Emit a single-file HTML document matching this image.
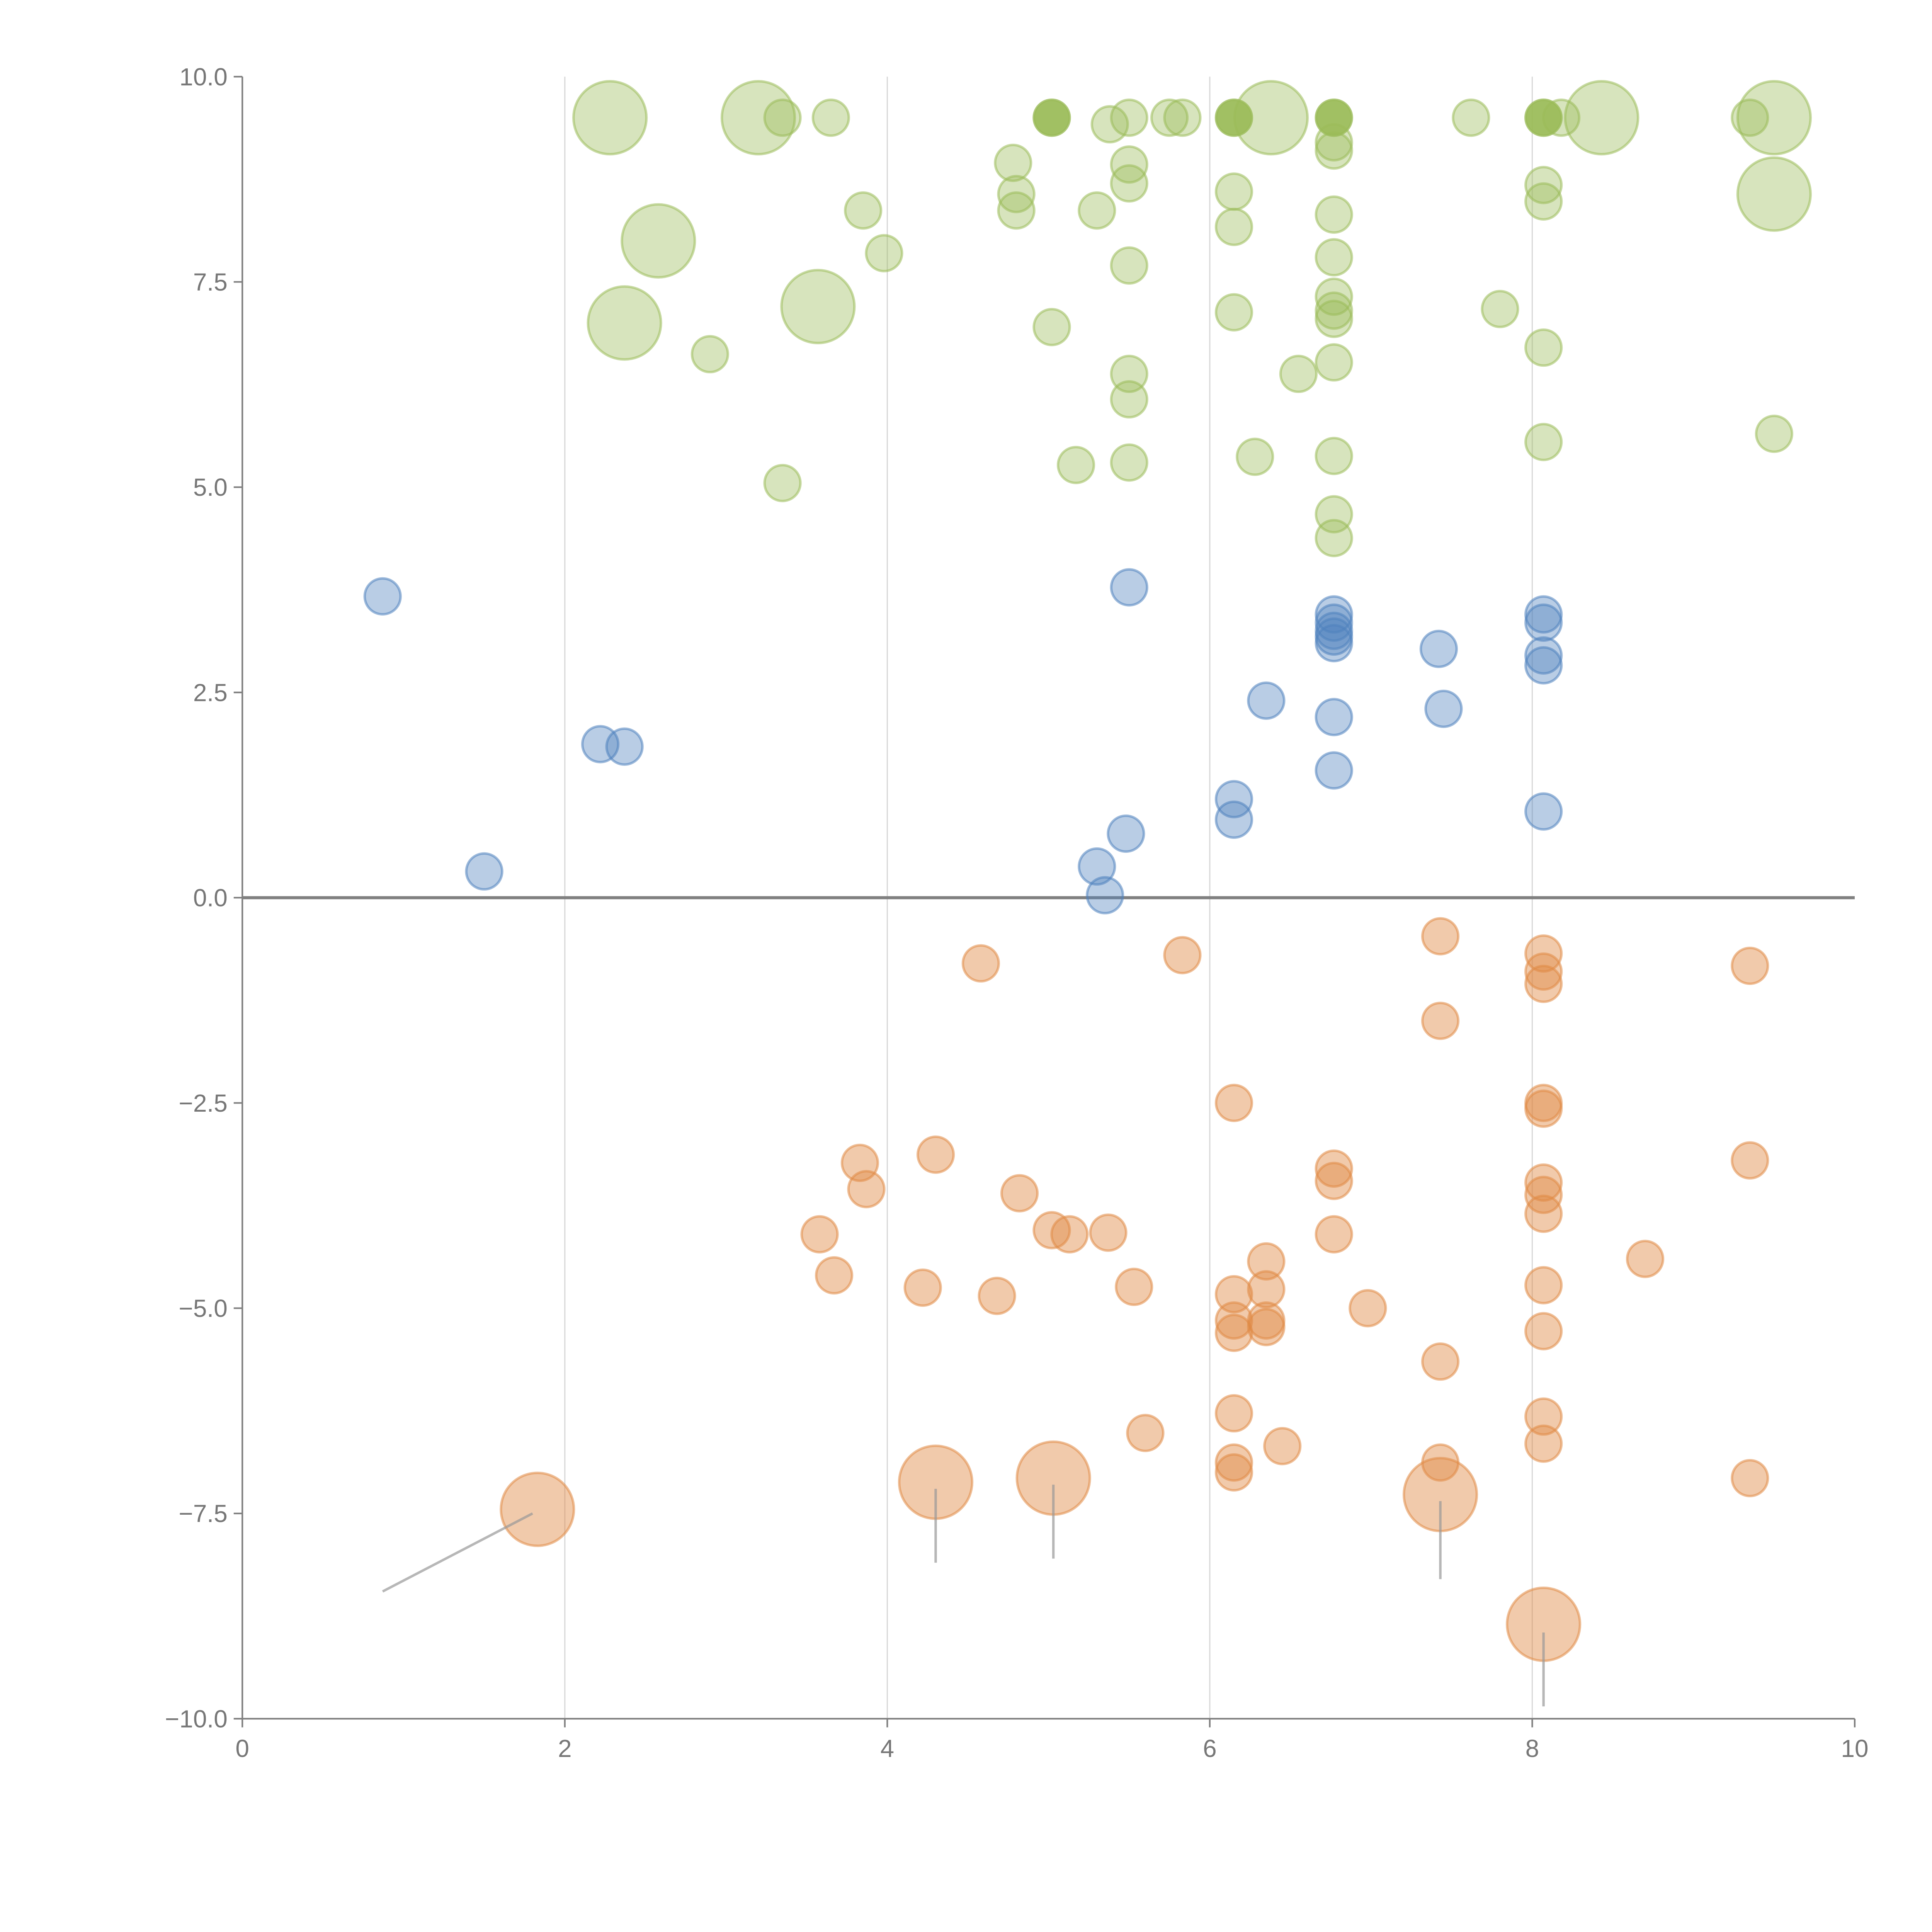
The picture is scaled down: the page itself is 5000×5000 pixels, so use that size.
<!DOCTYPE html>
<html><head><meta charset="utf-8"><style>html,body{margin:0;padding:0;background:#fff}svg{display:block}text{font-family:"Liberation Sans",sans-serif}</style></head>
<body>
<svg id="chart" width="5000" height="5000" viewBox="0 0 1562.5 1562.5" xmlns="http://www.w3.org/2000/svg">
<g id="grid"></g>
<g id="axes"></g>
<g id="marks"></g>
</svg>
<script>
const xTicks=[0,2,4,6,8,10];
const yTicks=[10,7.5,5,2.5,0,-2.5,-5,-7.5,-10];
const yTickLabels=["10.0","7.5","5.0","2.5","0.0","\u22122.5","\u22125.0","\u22127.5","\u221210.0"];
const greenSmallX=[3.35,3.65,5.02,5.5,5.38,5.75,5.83,6.15,6.77,7.62,8.07,8.18,9.35,6.77,6.77,4.78,5.5,4.8,5.5,6.15,8.07,8.07,3.85,4.8,5.3,6.77,6.15,3.98,6.77,5.5,6.77,6.77,6.77,7.8,6.15,5.02,2.9,8.07,6.77,5.5,6.55,5.5,8.07,9.5,6.28,6.77,5.17,5.5,3.35,6.77,6.77];
const greenSmallY=[9.5,9.5,9.5,9.5,9.42,9.5,9.5,9.5,9.5,9.5,9.5,9.5,9.5,9.2,9.1,8.95,8.93,8.57,8.7,8.6,8.68,8.48,8.37,8.37,8.37,8.32,8.17,7.85,7.8,7.7,7.32,7.15,7.05,7.17,7.13,6.95,6.62,6.7,6.52,6.38,6.38,6.07,5.55,5.65,5.37,5.38,5.27,5.3,5.05,4.67,4.38];
const greenDarkX=[5.02,6.15,6.77,8.07];
const greenDarkY=[9.5,9.5,9.5,9.5];
const greenLargeX=[2.28,3.2,6.38,8.43,9.5,2.58,3.57,2.37,9.5];
const greenLargeY=[9.5,9.5,9.5,9.5,9.5,8.0,7.2,7.0,8.57];
const blueX=[0.87,2.22,2.37,1.5,5.5,6.77,6.77,6.77,6.77,6.77,8.07,8.07,8.07,8.07,7.42,6.35,7.45,6.77,6.77,6.15,6.15,8.07,5.48,5.3,5.35];
const blueY=[3.67,1.87,1.84,0.32,3.78,3.45,3.35,3.25,3.18,3.1,3.45,3.35,2.95,2.83,3.03,2.4,2.3,2.2,1.55,1.2,0.95,1.05,0.78,0.38,0.03];
const orangeX=[4.58,5.83,7.43,8.07,8.07,8.07,9.35,7.43,6.15,8.07,8.07,3.83,4.3,3.87,6.77,6.77,9.35,8.07,8.07,4.82,3.58,5.02,5.13,5.37,6.77,8.07,3.67,6.35,8.7,4.22,4.68,5.53,6.15,6.35,8.07,6.98,6.15,6.15,6.35,6.35,8.07,7.43,6.15,8.07,5.6,6.45,8.07,6.15,6.15,7.43,9.35];
const orangeY=[-0.8,-0.7,-0.47,-0.68,-0.9,-1.05,-0.83,-1.5,-2.5,-2.5,-2.57,-3.23,-3.13,-3.55,-3.3,-3.45,-3.2,-3.47,-3.62,-3.6,-4.1,-4.05,-4.1,-4.08,-4.1,-3.85,-4.6,-4.43,-4.4,-4.75,-4.85,-4.74,-4.83,-4.77,-4.72,-5.0,-5.15,-5.3,-5.15,-5.23,-5.28,-5.65,-6.28,-6.32,-6.52,-6.68,-6.65,-6.88,-7.0,-6.88,-7.07];
const orangeLargeX=[1.83,4.3,5.03,7.43,8.07];
const orangeLargeY=[-7.45,-7.12,-7.07,-7.27,-8.85];
const leaderX1=[0.87,4.3,5.03,7.43,8.07];
const leaderY1=[-8.45,-8.1,-8.05,-8.3,-9.85];
const leaderX2=[1.8,4.3,5.03,7.43,8.07];
const leaderY2=[-7.5,-7.2,-7.15,-7.35,-8.95];

const NS="http://www.w3.org/2000/svg";
const X0=196,X1=1500,Y0=62,Y1=1390;
const sx=v=>X0+(v-0)/(10-0)*(X1-X0);
const sy=v=>Y0+(10-v)/20*(Y1-Y0);
function mk(tag,attrs,parent){const e=document.createElementNS(NS,tag);for(const k in attrs)e.setAttribute(k,attrs[k]);parent.appendChild(e);return e;}
const grid=document.getElementById('grid'),axes=document.getElementById('axes'),marks=document.getElementById('marks');
xTicks.forEach(t=>{if(t>0&&t<10){const l=mk('line',{x1:sx(t),x2:sx(t),y1:Y0,y2:Y1,stroke:'#d9d9d9','stroke-width':1},grid);

}});
const zl=mk('line',{x1:X0,x2:X1,y1:sy(0),y2:sy(0),stroke:'#808080','stroke-width':2.5},grid);


const ya=mk('line',{x1:X0,x2:X0,y1:Y0,y2:Y1,stroke:'#808080','stroke-width':1.3},axes);


const xa=mk('line',{x1:X0,x2:X1,y1:Y1,y2:Y1,stroke:'#808080','stroke-width':1.3},axes);


xTicks.forEach(t=>{const tk=mk('line',{x1:sx(t),x2:sx(t),y1:Y1,y2:Y1+7,stroke:'#808080','stroke-width':1.3},axes);


const tx=mk('text',{x:sx(t),y:Y1+31,'text-anchor':'middle','font-size':20,fill:'#777'},axes);tx.textContent=t;

});
yTicks.forEach((t,i)=>{const tk=mk('line',{x1:X0-7,x2:X0,y1:sy(t),y2:sy(t),stroke:'#808080','stroke-width':1.3},axes);


const tx=mk('text',{x:X0-12,y:sy(t)+7,'text-anchor':'end','font-size':20,fill:'#777'},axes);tx.textContent=yTickLabels[i];

});
function bubbles(xs,ys,r,fill,stroke,op,name){xs.forEach((x,i)=>{const c=mk('circle',{cx:sx(x),cy:sy(ys[i]),r:r,fill:fill,'fill-opacity':op,stroke:stroke,'stroke-opacity':0.55,'stroke-width':2},marks);

});}
bubbles(greenSmallX,greenSmallY,14.5,'#9bbb59','#9bbb59',0.4,'green-bubble');
bubbles(greenLargeX,greenLargeY,29.5,'#9bbb59','#9bbb59',0.4,'green-large-bubble');
bubbles(greenDarkX,greenDarkY,14.5,'#9bbb59','#9bbb59',0.9,'green-highlight-bubble');
bubbles(blueX,blueY,14.5,'#4f81bd','#4f81bd',0.4,'blue-bubble');
bubbles(orangeX,orangeY,14.5,'#e08a45','#e08a45',0.45,'orange-bubble');
bubbles(orangeLargeX,orangeLargeY,29.5,'#e08a45','#e08a45',0.45,'orange-large-bubble');
leaderX1.forEach((x,i)=>{const l=mk('line',{x1:sx(x),y1:sy(leaderY1[i]),x2:sx(leaderX2[i]),y2:sy(leaderY2[i]),stroke:'#999','stroke-opacity':0.7,'stroke-width':2},marks);

});
</script>
</body></html>
